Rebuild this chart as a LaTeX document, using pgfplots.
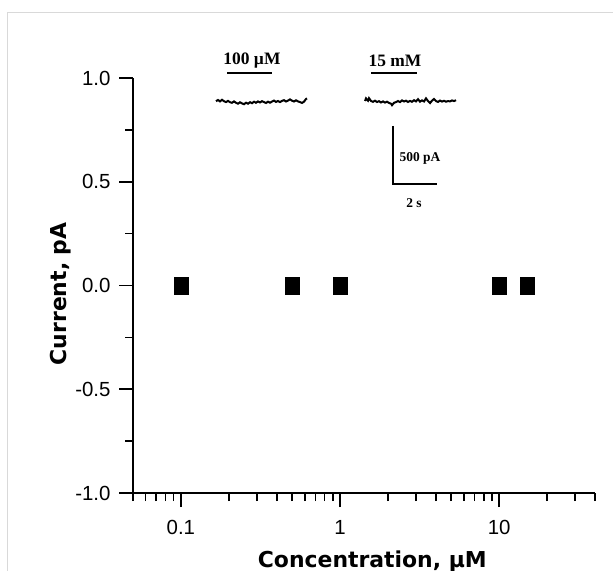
\documentclass[border=0pt]{standalone}
\usepackage{fontspec}
\setmainfont{Liberation Sans}
\newfontfamily\djv{DejaVu Sans}
\newfontfamily\tms{Liberation Serif}
\usepackage{pgfplots}
\pgfplotsset{compat=1.18}

\begin{document}
\begin{tikzpicture}
\useasboundingbox (-133bp,-78bp) rectangle (480bp,493bp);
% light frame of the original figure
\draw[black!15, line width=1bp] (-125bp,-90bp) -- (-125bp,480bp) -- (500bp,480bp);

\begin{axis}[
    scale only axis,
    width=462bp, height=415bp,
    xmode=log,
    xmin=0.05, xmax=40,
    ymin=-1, ymax=1,
    axis x line*=bottom, axis y line*=left,
    axis line style={line width=1.6bp},
    tick align=outside,
    tick style={line width=1.6bp, black},
    major tick length=14bp, minor tick length=8bp,
    xtick={0.1,1,10}, xticklabels={0.1,1,10},
    minor xtick={0.05,0.06,0.07,0.08,0.09,0.2,0.3,0.4,0.5,0.6,0.7,0.8,0.9,2,3,4,5,6,7,8,9,20,30,40},
    ytick={-1,-0.5,0,0.5,1},
    minor ytick={-0.75,-0.25,0.25,0.75},
    /pgf/number format/assume math mode=true,
    yticklabel style={/pgf/number format/.cd, fixed, fixed zerofill, precision=1, /tikz/.cd, xshift=-5bp},
    xticklabel style={yshift=-10bp},
    ticklabel style={font=\fontsize{20.5}{24}\selectfont},
    xlabel={Concentration, µM},
    ylabel={Current, pA},
    label style={font=\djv\bfseries\fontsize{22}{26}\selectfont},
    xlabel style={at={(axis description cs:0.518,0)}, anchor=base, yshift=-74bp},
    ylabel style={at={(axis description cs:-0.1429,0.48)}, anchor=base},
    clip=false,
]
\addplot[only marks, mark=square*, mark size=7bp, mark options={yscale=1.2, fill=black, draw=black}]
    coordinates {(0.1,0) (0.5,0) (1,0) (10,0) (15,0)};
\end{axis}

% inset traces, in pixel units of the axis area
\begin{axis}[
    scale only axis,
    width=462bp, height=415bp,
    xmin=0, xmax=462, ymin=0, ymax=415,
    hide axis, clip=false,
]
\addplot[black, line width=2bp] coordinates {
(83,391.8) (85,393.0) (87,391.6) (89,393.2) (91,391.8) (93,390.9) (95,392.1) (97,390.8)
(99,390.2) (101,391.6) (103,390.2) (105,389.3) (107,390.7) (109,389.6) (111,388.8) (113,390.3)
(115,389.3) (117,390.8) (119,389.8) (121,391.3) (123,390.2) (125,391.6) (127,390.6) (129,391.8)
(131,390.9) (133,390.0) (135,391.3) (137,390.3) (139,391.4) (141,392.4) (143,391.1) (145,392.0)
(147,390.9) (149,392.1) (151,392.8) (153,391.5) (155,392.4) (157,393.6) (159,392.3) (161,391.5)
(163,392.7) (165,391.6) (167,390.9) (169,390.1) (171,391.3) (173,394.0) (174,394.6)
};
\addplot[black, line width=2bp] coordinates {
(232,392.0) (233,394.6) (235,392.3) (236,394.8) (238,392.0) (240,391.2) (242,392.3) (244,391.0)
(246,391.8) (248,390.5) (250,391.6) (252,390.4) (254,391.3) (256,390.1) (258,389.3) (259,387.8)
(261,390.2) (263,390.9) (265,392.0) (267,390.9) (269,392.6) (271,391.5) (273,392.3) (275,391.0)
(277,392.1) (279,391.2) (281,392.8) (283,391.6) (285,393.8) (287,391.3) (289,392.6) (291,391.5)
(293,394.6) (295,391.9) (297,389.9) (299,392.3) (301,394.0) (303,391.9) (305,391.1) (307,392.4)
(309,391.4) (311,392.2) (313,391.3) (315,391.9) (317,391.6) (319,392.6) (321,391.9) (323,392.8)
};
% application bars
\addplot[black, line width=2.2bp] coordinates {(94,420) (139,420)};
\addplot[black, line width=2.2bp] coordinates {(238,420) (284,420)};
% scale bar
\addplot[black, line width=1.6bp] coordinates {(260,367) (260,309) (304,309)};
\node[font=\tms\bfseries\fontsize{17.5}{20}\selectfont] at (axis cs:119,432) {100 µM};
\node[font=\tms\bfseries\fontsize{17.5}{20}\selectfont] at (axis cs:262,432) {15 mM};
\node[font=\tms\bfseries\fontsize{13.5}{16}\selectfont] at (axis cs:287,335) {500 pA};
\node[font=\tms\bfseries\fontsize{13.5}{16}\selectfont] at (axis cs:281,290) {2 s};
\end{axis}
\end{tikzpicture}
\end{document}
